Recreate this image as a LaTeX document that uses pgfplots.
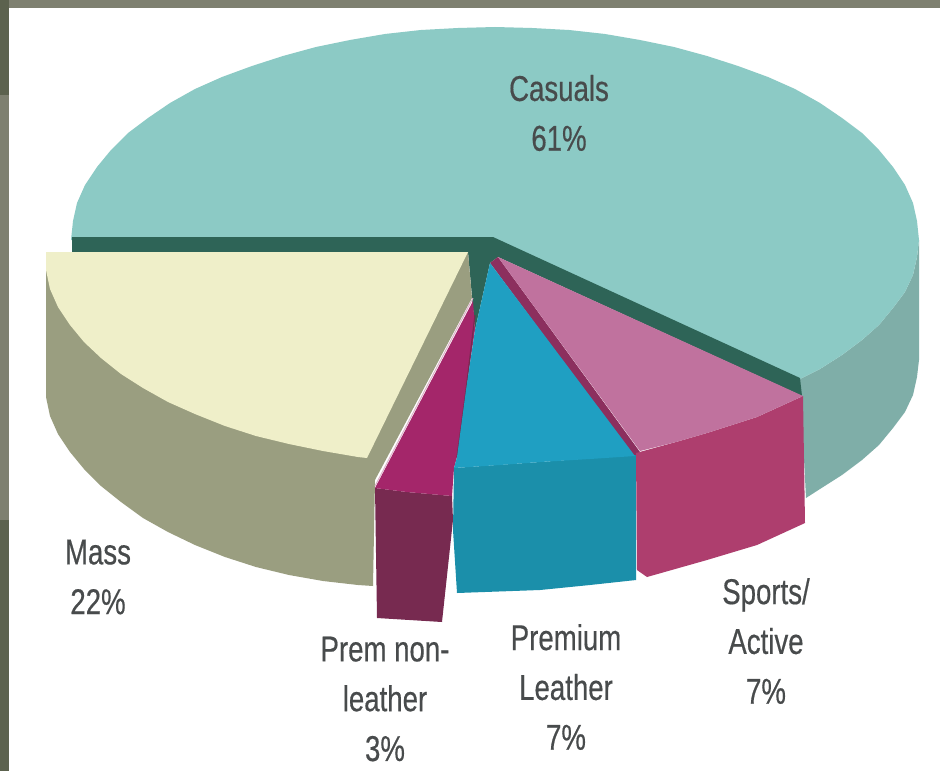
\documentclass[border=0pt]{standalone}
\usepackage{fontspec}
\setmainfont[FakeStretch=0.77,FakeBold=0.4]{Liberation Sans}
\usepackage{pgfplots}
\pgfplotsset{compat=1.18}
\definecolor{frameolive}{HTML}{7E8070}
\definecolor{framedark}{HTML}{5C624E}
\definecolor{casualtop}{HTML}{8CCAC5}
\definecolor{casualside}{HTML}{7FAEA8}
\definecolor{hubdark}{HTML}{2E6457}
\definecolor{masstop}{HTML}{EFEFC9}
\definecolor{massside}{HTML}{9A9E80}
\definecolor{premtop}{HTML}{A4266A}
\definecolor{premside}{HTML}{772A50}
\definecolor{leathertop}{HTML}{1F9FC2}
\definecolor{leatherside}{HTML}{1B8FAA}
\definecolor{sporttop}{HTML}{C0729E}
\definecolor{sportside}{HTML}{AE3E6E}
\definecolor{seam}{HTML}{8C2F5E}
\definecolor{labelgrey}{HTML}{484B4C}
\pgfplotsset{slice/.style={fill=#1,draw=none,forget plot}}
\tikzset{lab/.style={font=\fontsize{36}{50}\selectfont, text=labelgrey, align=center, inner sep=0pt}}
\begin{document}
\begin{tikzpicture}
\begin{axis}[
  scale only axis, width=940bp, height=771bp,
  xmin=0, xmax=940, ymin=0, ymax=771, y dir=reverse,
  axis lines=none, clip=true,
]
% page and its olive frame
\addplot[slice=frameolive] coordinates {(0,0)(940,0)(940,771)(0,771)} --cycle;
\addplot[slice=framedark] coordinates {(0,0)(9,0)(9,95)(0,95)} --cycle;
\addplot[slice=framedark] coordinates {(0,520)(9,520)(9,771)(0,771)} --cycle;
\addplot[slice=white] coordinates {(9,8)(940,8)(940,771)(9,771)} --cycle;

% Casuals, rim then top
\addplot[slice=casualside] coordinates {(919,240)(917,257)(913,275)(905,292)(893,308)(879,325)(862,340)(842,355)(820,369)(800,379)
  (806,498)(820,489)(842,475)(862,460)(879,445)(893,428)(905,412)(913,395)(917,377)(919,360)} --cycle;
\addplot[slice=casualtop] coordinates {(71,240)(73,221)(77,203)(85,185)(97,167)(111,150)(128,133)(148,118)(170,103)(195,89)(222,77)(252,66)(283,56)(316,47)(350,40)(385,34)(421,30)(458,28)(495,27)
  (532,28)(569,30)(605,34)(640,40)(674,47)(707,56)(738,66)(768,77)(795,89)(820,103)(842,118)(862,133)(879,150)(893,167)(905,185)(913,203)(917,221)(919,240)
  (917,257)(913,275)(905,292)(893,308)(879,325)(862,340)(842,355)(820,369)(800,379)(493,238)} --cycle;

% Dark cut faces behind the exploded slices
\addplot[slice=hubdark] coordinates {(72,237)(493,237)(800,378)(802,396)(498,257)(490,263)(475,330)(468,252)(72,252)} --cycle;

% Mass
\addplot[slice=massside] coordinates {(46,252)(46,397)(50,416)(58,434)(70,452)(84,469)(101,486)(121,502)(143,518)(168,532)(195,545)(225,557)(256,567)(289,575)(323,581)(358,585)(373,586)(375,480)(472,298)(468,252)} --cycle;
\addplot[slice=masstop] coordinates {(46,252)(46,270)(50,289)(58,307)(70,325)(84,342)(101,358)(121,374)(143,388)(168,402)(195,414)(225,426)(256,436)(289,444)(323,451)(358,457)(367,458)(468,252)} --cycle;

% Prem non-leather
\addplot[slice=premside] coordinates {(375,488)(407,492)(452,496)(453,520)(442,622)(377,618)} --cycle;
\addplot[slice=premtop] coordinates {(473,301)(375,488)(407,492)(452,496)(454,468)(457,457)(466,390)(475,330)} --cycle;
\addplot[color=premtop!35!white,line width=1pt,forget plot] coordinates {(473,298)(375,486)};
\addplot[color=premside,line width=1.2pt,forget plot] coordinates {(475,315)(466,390)(457,457)};

% Magenta seam between the two exploded slices
\addplot[slice=seam] coordinates {(498,257)(640,452)(635,458)(490,263)} --cycle;

% Premium Leather
\addplot[slice=leatherside] coordinates {(454,468)(540,462)(636,455)(636,580)(590,585)(540,590)(457,593)(453,530)} --cycle;
\addplot[slice=leathertop] coordinates {(490,263)(475,330)(466,390)(457,457)(454,468)(500,465)(540,462)(590,459)(635,456)} --cycle;

% Sports/Active
\addplot[slice=sportside] coordinates {(636,453)(676,442)(707,433)(757,417)(803,396)(805,523)(757,545)(707,560)(647,577)(637,570)} --cycle;
\addplot[slice=sporttop] coordinates {(498,257)(803,396)(757,417)(707,433)(676,442)(640,451)} --cycle;

% Labels
\node[lab] at (axis cs:559,113) {Casuals\\61\%};
\node[lab] at (axis cs:98,577) {Mass\\22\%};
\node[lab] at (axis cs:385,699) {Prem non-\\leather\\3\%};
\node[lab] at (axis cs:566,687) {Premium\\Leather\\7\%};
\node[lab] at (axis cs:766,641) {Sports/\\Active\\7\%};
\end{axis}
\end{tikzpicture}
\end{document}
